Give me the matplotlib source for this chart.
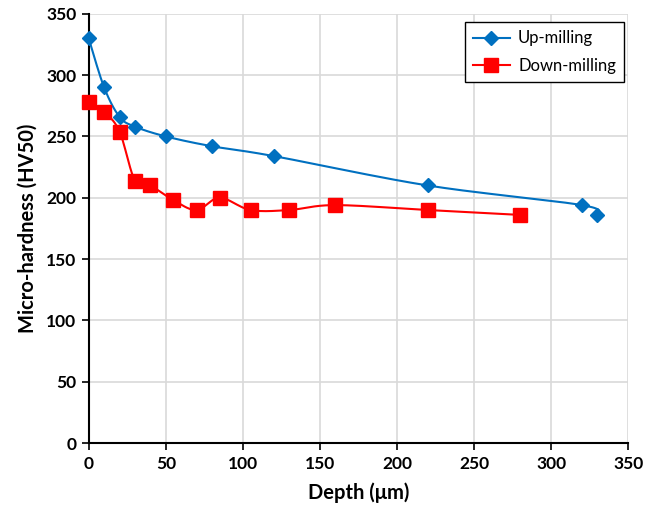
import numpy as np
import matplotlib
matplotlib.use("Agg")
import matplotlib.pyplot as plt

up_depth = [0, 10, 20, 30, 50, 80, 120, 220, 320, 330]
up_hv = [330, 290, 266, 258, 250, 242, 234, 210, 194, 186]

down_depth = [0, 10, 20, 30, 40, 55, 70, 85, 105, 130, 160, 220, 280]
down_hv = [278, 270, 254, 214, 210, 198, 190, 200, 190, 190, 194, 190, 186]

ticks = [0, 50, 100, 150, 200, 250, 300, 350]


def smooth(x, y, n=20):
    # catmull-rom style smoothing like excel's smoothed line
    x = np.asarray(x, float)
    y = np.asarray(y, float)
    px = np.concatenate([[x[0]], x, [x[-1]]])
    py = np.concatenate([[y[0]], y, [y[-1]]])
    xs, ys = [], []
    t = np.linspace(0, 1, n)
    for i in range(1, len(px) - 2):
        p0, p1, p2, p3 = (np.array([px[j], py[j]]) for j in range(i - 1, i + 3))
        c1 = p1 + (p2 - p0) / 6
        c2 = p2 - (p3 - p1) / 6
        for tt in t:
            b = ((1 - tt) ** 3) * p1 + 3 * ((1 - tt) ** 2) * tt * c1 + 3 * (1 - tt) * tt ** 2 * c2 + tt ** 3 * p2
            xs.append(b[0])
            ys.append(b[1])
    return xs, ys


plt.rcParams['font.family'] = ['Lato', 'DejaVu Sans']

fig = plt.figure(figsize=(6.62, 5.11), dpi=100)
ax = fig.add_axes([0.134, 0.133, 0.815, 0.840])

blue = '#0070C0'
red = '#FF0000'

sx, sy = smooth(up_depth, up_hv)
ax.plot(sx, sy, color=blue, lw=1.5, zorder=3, clip_on=False)
ax.plot(up_depth, up_hv, ls='none', marker='D', ms=7.5, color=blue, zorder=4, clip_on=False)
ax.plot([], [], color=blue, lw=1.5, marker='D', ms=7.5, label='Up-milling')

sx, sy = smooth(down_depth, down_hv)
ax.plot(sx, sy, color=red, lw=1.5, zorder=3, clip_on=False)
ax.plot(down_depth, down_hv, ls='none', marker='s', ms=9.5, color=red, zorder=4, clip_on=False)
ax.plot([], [], color=red, lw=1.5, marker='s', ms=9.5, label='Down-milling')

ax.set_xlim(0, 350)
ax.set_ylim(0, 350)
ax.set_xticks(ticks)
ax.set_yticks(ticks)
ax.set_xticklabels([str(t) for t in ticks], fontweight='bold', fontsize=12.5)
ax.set_yticklabels([str(t) for t in ticks], fontweight='bold', fontsize=12.5)
ax.grid(True, color='#d9d9d9', lw=1.2)
ax.set_axisbelow(True)
ax.spines['top'].set_visible(False)
ax.spines['right'].set_visible(False)
ax.spines['left'].set_linewidth(1.5)
ax.spines['bottom'].set_linewidth(1.5)
ax.tick_params(direction='out', length=5, width=1.2, pad=4)
ax.set_xlabel('Depth (μm)', fontweight='bold', fontsize=14.5, labelpad=8)
ax.set_ylabel('Micro-hardness (HV50)', fontweight='bold', fontsize=14.5, labelpad=6)

leg = ax.legend(loc='upper right', bbox_to_anchor=(1.008, 1.0), fontsize=12, fancybox=False,
                edgecolor='black', framealpha=1, borderpad=0.5, handlelength=2.2,
                handletextpad=0.5, labelspacing=0.7)
leg.get_frame().set_linewidth(1.0)

fig.savefig('out.png', dpi=100)
